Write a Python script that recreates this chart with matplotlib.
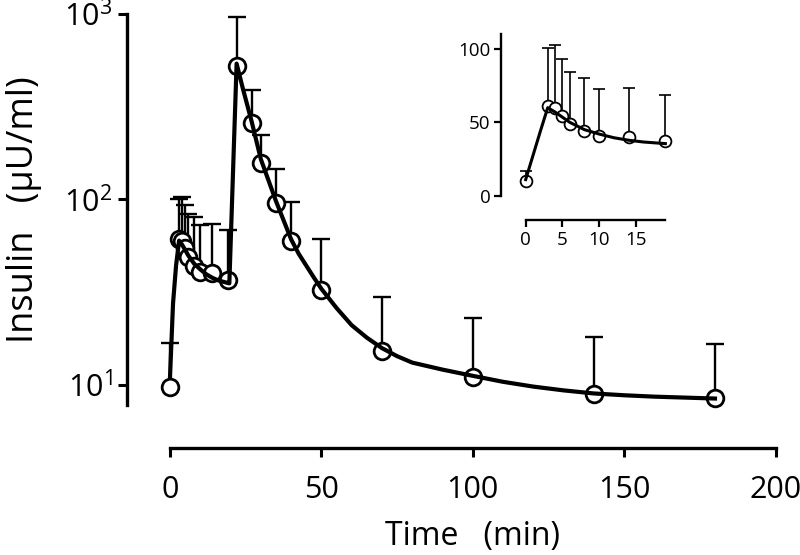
import numpy as np
import matplotlib
matplotlib.use('Agg')
import matplotlib.pyplot as plt
from matplotlib.ticker import FixedLocator, NullLocator

plt.rcParams['font.family'] = ['Open Sans', 'DejaVu Sans']
plt.rcParams['mathtext.default'] = 'regular'

# 측정값 (평균, 평균+SD)
time_min = [0, 3, 4, 5, 6, 8, 10, 14, 19, 22, 27, 30, 35, 40, 50, 70, 100, 140, 180]
insulin_mean = [9.8, 61, 60, 54.5, 49, 44, 40.5, 40, 37, 525, 258, 158, 96, 60, 32.7, 15.2, 11.1, 8.95, 8.5]
insulin_upper = [16.8, 101, 102.5, 93, 84, 80, 73, 73.6, 68.4, 963, 389, 224, 146, 96.6, 61.5, 29.8, 23.0, 18.2, 16.6]

# 모델 곡선
fit_time = [0, 1, 2, 3, 4, 5, 6, 8, 10, 12, 14, 16, 19, 19.6, 22, 24, 27, 30, 35, 40, 42.5, 45,
            47.5, 50, 55, 60, 65, 70, 75, 80, 90, 100, 110, 120, 130, 140, 150, 160, 170, 180]
fit_insulin = [11, 27.5, 44, 60, 57, 53.5, 50, 45, 42, 39.5, 37.8, 36.6, 35.5, 35.3, 540, 400, 262,
               165, 98, 61, 51, 44, 38, 33, 26, 21, 18, 15.8, 14.3, 13.2, 12.1, 11.2, 10.4, 9.8,
               9.35, 9.0, 8.8, 8.65, 8.55, 8.45]

# 인셋 (0-19분)
inset_n = 9
inset_ticks_x = [0, 5, 10, 15]
inset_ticks_y = [0, 50, 100]
inset_fit_n = 13

t = np.array(time_min)
m = np.array(insulin_mean)
up = np.array(insulin_upper)

fig = plt.figure(figsize=(8, 5.55), dpi=100)

ax = fig.add_axes([0.2125, 0.2703, 0.7569, 0.7045])
ax.errorbar(t, m, yerr=[np.zeros_like(m), up - m], fmt='none', ecolor='black',
            elinewidth=1.7, capsize=6.5, capthick=1.7, zorder=1, clip_on=False)
ax.plot(t, m, 'o', ms=12, mfc='white', mec='black', mew=2.0, zorder=2, clip_on=False)
ax.plot(fit_time, fit_insulin, color='black', lw=3, zorder=3, clip_on=False)

ax.set_yscale('log')
ax.set_xlim(0, 200)
ax.set_ylim(7.8, 1000)
ax.xaxis.set_major_locator(FixedLocator([0, 50, 100, 150, 200]))
ax.yaxis.set_major_locator(FixedLocator([10, 100, 1000]))
ax.yaxis.set_minor_locator(NullLocator())
for side in ['top', 'right']:
    ax.spines[side].set_visible(False)
for side in ['left', 'bottom']:
    ax.spines[side].set_position(('outward', 31))
    ax.spines[side].set_linewidth(2.4)
ax.tick_params(width=2.2, length=6.5, labelsize=22, pad=4)
ax.tick_params(axis='x', pad=13)
ax.set_xlabel('Time   (min)', fontsize=23, labelpad=11)
ax.set_ylabel('Insulin   (\u00b5U/ml)', fontsize=26, labelpad=16)

ins = fig.add_axes([0.6571, 0.6474, 0.1746, 0.2908])
ti = t[:inset_n]
mi = m[:inset_n]
ui = up[:inset_n]
ins.errorbar(ti, mi, yerr=[np.zeros_like(mi), ui - mi], fmt='none', ecolor='black',
             elinewidth=1.2, capsize=4, capthick=1.2, zorder=1, clip_on=False)
ins.plot(ti, mi, 'o', ms=8.5, mfc='white', mec='black', mew=1.3, zorder=2, clip_on=False)
ins.plot(fit_time[:inset_fit_n], fit_insulin[:inset_fit_n], color='black', lw=2.2, zorder=3,
         clip_on=False)
ins.set_xlim(0, 19)
ins.set_ylim(0, 110)
ins.xaxis.set_major_locator(FixedLocator(inset_ticks_x))
ins.yaxis.set_major_locator(FixedLocator(inset_ticks_y))
for side in ['top', 'right']:
    ins.spines[side].set_visible(False)
for side in ['left', 'bottom']:
    ins.spines[side].set_position(('outward', 17.5))
    ins.spines[side].set_linewidth(1.7)
ins.tick_params(width=1.6, length=5, labelsize=13.5, pad=3)
ins.patch.set_alpha(0)

fig.savefig('out.png', dpi=100)
